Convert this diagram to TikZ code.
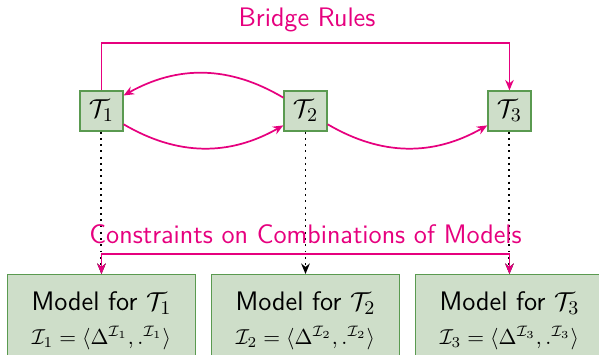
\documentclass[tikz,border=0pt]{standalone}
\usepackage{sansmath}
\usetikzlibrary{arrows.meta, positioning}
\definecolor{cpink}{HTML}{E6007E}
\definecolor{cgreen}{HTML}{5A9A50}
\definecolor{cfill}{HTML}{CEDEC9}
\tikzset{
  every picture/.style={font=\sffamily\sansmath\fontsize{12.4}{14.5}\selectfont, line width=0.8pt},
  theory/.style={draw=cgreen, fill=cfill, line width=0.6pt, minimum width=0.7cm, minimum height=0.65cm, inner sep=1pt},
  model/.style={draw=cgreen, fill=cfill, line width=0.6pt, minimum width=3.06cm, minimum height=1.5cm, align=center, anchor=north, inner sep=3pt},
  rule/.style={draw=cpink, -{Stealth[length=1.7mm, width=1.4mm]}},
  dotline/.style={dotted, line width=0.9pt, -{Stealth[length=1.7mm, width=1.4mm]}},
  rulelabel/.style={text=cpink},
}

\begin{document}
\begin{tikzpicture}
  \useasboundingbox (0,0) rectangle (9.753,-5.764);
  \foreach \i/\x in {1/1.652, 2/4.974, 3/8.295} {
    \node[theory] (t\i) at (\x,-1.807) {$\mathcal{T}_\i$};
    \node[model] (m\i) at (\x,-4.461) {\rule{0pt}{2.5ex}Model for $\mathcal{T}_\i$\\[1pt]{\fontsize{10}{12}\selectfont $\mathcal{I}_\i=\langle\Delta^{\mathcal{I}_\i},.^{\mathcal{I}_\i}\rangle$}\\[14pt]};
    \draw[dotline] (t\i) -- (m\i);
  }
  % bridge rules
  \node[rulelabel] (br) at (4.998,-0.326) {Bridge Rules};
  \coordinate (brl) at (4.998,-0.700);
  \draw[rule] (t1.north) |- (brl) -| (t3.north);
  \draw[rule] (t2.149) to[bend right=30] (t1.35);
  \draw[rule] (t1.-31) to[bend right=30] (t2.213);
  \draw[rule] (t2.-31) to[bend right=30] (t3.213);
  % constraints
  \node[rulelabel] (cs) at (4.975,-3.810) {Constraints on Combinations of Models};
  \coordinate (csl) at (4.975,-4.135);
  \draw[rule, {Stealth[length=1.7mm, width=1.4mm]}-{Stealth[length=1.7mm, width=1.4mm]}] (m1.north) |- (csl) -| (m3.north);
\end{tikzpicture}
\end{document}
